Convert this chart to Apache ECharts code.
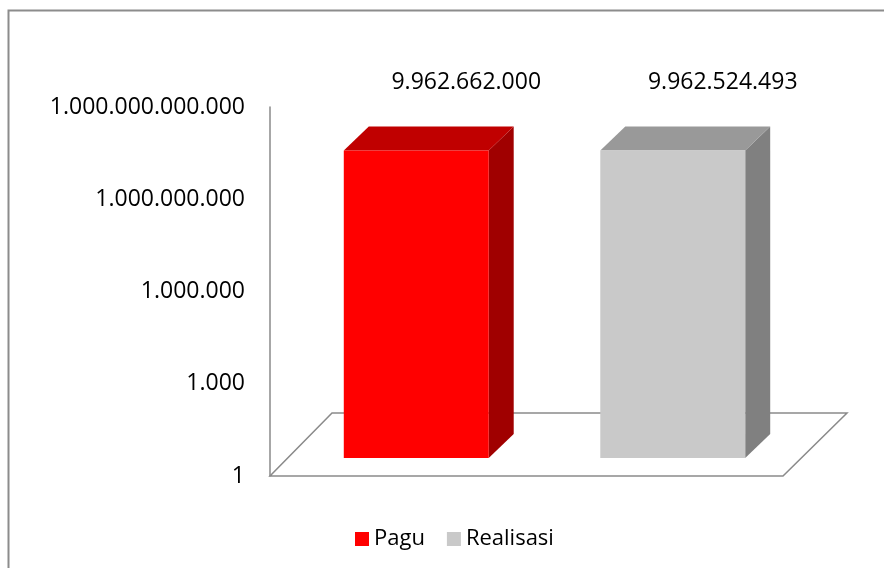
<!DOCTYPE html>
<html>
<head>
<meta charset="utf-8">
<script src="https://cdn.jsdelivr.net/npm/echarts@6/dist/echarts.min.js"></script>
<style>
  html, body { margin: 0; padding: 0; background: #fff; }
  #chart { width: 884px; height: 568px; }
</style>
</head>
<body>
<div id="chart"></div>
<script>
// data
var categories = ['Pagu', 'Realisasi'];
var paguValues = [9962662000];
var realisasiValues = [9962524493];
var tickValues = [1, 1000, 1000000, 1000000000, 1000000000000];

// 3d look
var FRONT = 18;   // bars sit this far back from the floor's front edge
var DEPTH = 25;   // depth of a bar
var colors = {
  Pagu: { front: '#ff0000', top: '#c00000', side: '#a00000' },
  Realisasi: { front: '#c9c9c9', top: '#999999', side: '#808080' }
};

function fmt(v) {
  return String(Math.round(v)).replace(/\B(?=(\d{3})+(?!\d))/g, '.');
}

function makeBar(name) {
  var c = colors[name];
  return function (params, api) {
    var cat = api.value(0), val = api.value(1);
    var base = api.coord([cat, 1]);
    var top = api.coord([cat, val]);
    var band = params.coordSys.width / categories.length;
    var w = band * 0.565;
    var x0 = base[0] - w / 2 + FRONT, x1 = x0 + w;
    var yb = base[1] - FRONT, yt = top[1] - FRONT;
    return {
      type: 'group',
      children: [
        { type: 'polygon', shape: { points: [[x1, yt], [x1 + DEPTH, yt - DEPTH + 1], [x1 + DEPTH, yb - DEPTH + 1], [x1, yb]] },
          style: { fill: c.side } },
        { type: 'polygon', shape: { points: [[x0, yt], [x0 + DEPTH, yt - DEPTH + 1], [x1 + DEPTH, yt - DEPTH + 1], [x1, yt]] },
          style: { fill: c.top } },
        { type: 'rect', shape: { x: x0, y: yt, width: w, height: yb - yt },
          style: { fill: c.front } },
        { type: 'text', x: (x0 + x1) / 2 + 50, y: yt - DEPTH - 43,
          style: { text: fmt(val), fill: '#000', font: '23px "Open Sans"', textAlign: 'center', textVerticalAlign: 'middle' } }
      ]
    };
  };
}

function renderFloor(params, api) {
  var cs = params.coordSys;
  var yb = cs.y + cs.height, xl = cs.x, xr = cs.x + cs.width;
  return {
    type: 'polygon',
    shape: { points: [[xl, yb], [xr, yb], [xr + 64, yb - 63], [xl + 62, yb - 63]] },
    style: { fill: 'none', stroke: '#8a8a8a', lineWidth: 1.5 }
  };
}

var chart = echarts.init(document.getElementById('chart'));
chart.setOption({
  animation: false,
  backgroundColor: '#fff',
  graphic: [{
    type: 'rect', left: 6, top: 8,
    shape: { width: 900, height: 600 },
    style: { fill: 'none', stroke: '#8c8c8c', lineWidth: 2 }
  }],
  grid: { left: 270, right: 101, top: 107, bottom: 92 },
  legend: {
    data: categories,
    left: 350, top: 523,
    icon: 'rect', itemWidth: 14, itemHeight: 14, itemGap: 22,
    textStyle: { fontFamily: 'Open Sans', fontSize: 22, color: '#000' }
  },
  xAxis: {
    type: 'category', data: categories,
    axisLine: { show: false }, axisTick: { show: false }, axisLabel: { show: false }
  },
  yAxis: {
    type: 'log', logBase: 1000, min: tickValues[0], max: tickValues[tickValues.length - 1],
    axisLine: { show: true, lineStyle: { color: '#8a8a8a', width: 1.5 } },
    axisTick: { show: false },
    splitLine: { show: false },
    axisLabel: { margin: 25, fontFamily: 'Open Sans', fontSize: 23, color: '#000', formatter: fmt }
  },
  series: [
    { type: 'custom', name: 'floor', silent: true, z: 1, renderItem: renderFloor, data: [[0, 1]] },
    { type: 'custom', name: 'Pagu', z: 2, itemStyle: { color: colors.Pagu.front },
      renderItem: makeBar('Pagu'), data: paguValues.map(function (v) { return [0, v]; }) },
    { type: 'custom', name: 'Realisasi', z: 2, itemStyle: { color: colors.Realisasi.front },
      renderItem: makeBar('Realisasi'), data: realisasiValues.map(function (v) { return [1, v]; }) }
  ]
});
</script>
</body>
</html>
